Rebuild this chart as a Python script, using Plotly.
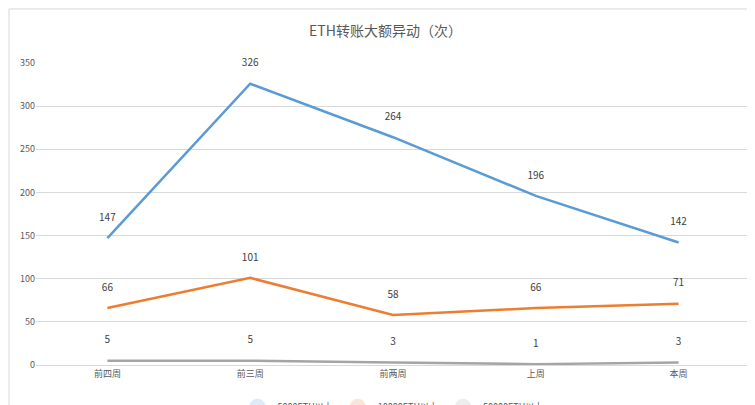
import plotly.graph_objects as go

categories = ["前四周", "前三周", "前两周", "上周", "本周"]
s5000 = [147, 326, 264, 196, 142]
s10000 = [66, 101, 58, 66, 71]
s50000 = [5, 5, 3, 1, 3]
names = ["5000ETH以上", "10000ETH以上", "50000ETH以上"]
colors = ["#5B9BD5", "#ED7D31", "#A5A5A5"]

fig = go.Figure()
for name, vals, c in zip(names, [s5000, s10000, s50000], colors):
    fig.add_trace(go.Scatter(x=categories, y=vals, name=name, mode="lines+markers+text",
                             text=[str(v) for v in vals], textposition="top center",
                             textfont=dict(size=10, color="#404040"),
                             marker=dict(size=22, opacity=0),
                             line=dict(color=c, width=2.5)))
fig.update_layout(
    width=755, height=405, paper_bgcolor="white", plot_bgcolor="white",
    font=dict(family="Noto Sans CJK SC, sans-serif", color="#595959"),
    title=dict(text="ETH转账大额异动（次）", x=0.5, y=0.955, xanchor="center",
               font=dict(size=14, color="#595959")),
    margin=dict(l=28, r=13, t=55, b=48, autoexpand=False),
    showlegend=True,
    legend=dict(orientation="h", x=0.5, xanchor="center", y=-0.09, yanchor="top",
                font=dict(size=9, color="#595959")),
    xaxis=dict(type="category", range=[-0.5, 4.5], showgrid=False, automargin=False,
               showline=True, linecolor="#D9D9D9", ticks="", tickfont=dict(size=9)),
    yaxis=dict(range=[0, 350], dtick=50, gridcolor="#D9D9D9", zeroline=False,
               automargin=False, tickfont=dict(size=9), ticks=""),
    shapes=[dict(type="rect", xref="paper", yref="paper", x0=-0.0378, x1=1.0154,
                 y0=-0.152, y1=1.179, line=dict(color="#D9D9D9", width=1))],
)
fig.update_traces(cliponaxis=False)
fig.write_html("out.html")
